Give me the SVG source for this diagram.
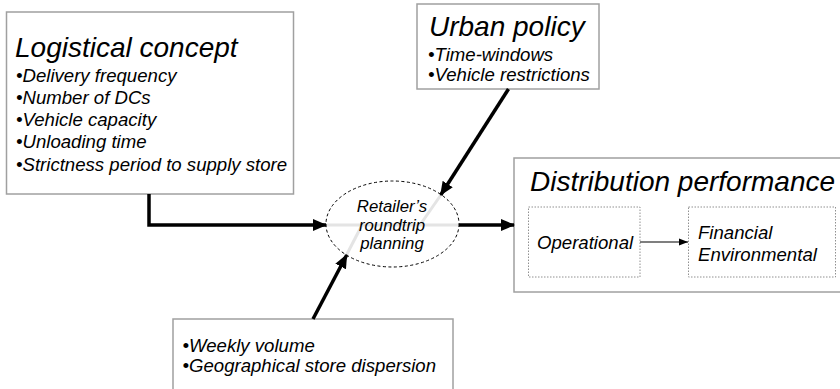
<svg xmlns="http://www.w3.org/2000/svg" width="840" height="389" viewBox="0 0 840 389">
  <style>
    .box { fill: #ffffff; stroke: #a0a0a0; stroke-width: 1.5; }
    .inner { fill: none; stroke: #909090; stroke-width: 1; stroke-dasharray: 1.5 1.5; }
    text { font-family: "Liberation Sans", Arial, sans-serif; font-style: italic; fill: #000; }
    .title { font-size: 28px; }
    .item { font-size: 18.6px; }
    .small { font-size: 16.8px; text-anchor: middle; }
    .conn { fill: none; stroke: #000; stroke-width: 3.5; }
    .ghost { fill: none; stroke: #e4e4e4; stroke-width: 3; }
    .thin { fill: none; stroke: #000; stroke-width: 1.2; }
  </style>
  <defs>
    <marker id="ah" markerUnits="userSpaceOnUse" markerWidth="14" markerHeight="12" refX="13" refY="6" orient="auto">
      <path d="M0,0 L14,6 L0,12 Z" fill="#000"/>
    </marker>
    <marker id="ahs" markerUnits="userSpaceOnUse" markerWidth="9" markerHeight="8" refX="9" refY="4" orient="auto">
      <path d="M0,0.5 L9,4 L0,7.5 Z" fill="#000"/>
    </marker>
  </defs>

  <g id="logistical-concept">
    <rect class="box" x="6.5" y="12" width="287" height="182"/>
    <text class="title" x="15" y="57">Logistical concept</text>
    <text class="item" x="16" y="81.5">•Delivery frequency</text>
    <text class="item" x="16" y="103.5">•Number of DCs</text>
    <text class="item" x="16" y="125.5">•Vehicle capacity</text>
    <text class="item" x="16" y="148">•Unloading time</text>
    <text class="item" x="16" y="170.5">•Strictness period to supply store</text>
  </g>

  <g id="urban-policy">
    <rect class="box" x="417" y="4" width="182" height="85"/>
    <text class="title" x="429" y="36">Urban policy</text>
    <text class="item" x="428" y="61">•Time-windows</text>
    <text class="item" x="428" y="80.5">•Vehicle restrictions</text>
  </g>

  <g id="demand">
    <rect class="box" x="173" y="319" width="280" height="80"/>
    <text class="item" x="182.5" y="352">•Weekly volume</text>
    <text class="item" x="182.5" y="372">•Geographical store dispersion</text>
  </g>

  <g id="distribution-performance">
    <rect class="box" x="514" y="158" width="340" height="134"/>
    <text class="title" x="530" y="191">Distribution performance</text>
    <g id="operational">
      <rect class="inner" x="528.5" y="207" width="111.5" height="70"/>
      <text class="item" x="537" y="249">Operational</text>
    </g>
    <g id="financial-environmental">
      <rect class="inner" x="688.5" y="207" width="147" height="70"/>
      <text class="item" x="698" y="238.5">Financial</text>
      <text class="item" x="698" y="260.5">Environmental</text>
    </g>
  </g>

  <g id="connectors">
    <path class="ghost" d="M326,225 L459,225"/>
    <path class="ghost" d="M440.5,195.5 L420,225"/>
    <path class="ghost" d="M346.5,255 L362,225"/>
    <path class="conn" d="M149,194 L149,225 L326,225" marker-end="url(#ah)"/>
    <path class="conn" d="M508.5,89 L440.7,195" marker-end="url(#ah)"/>
    <path class="conn" d="M313,319 L346.7,255" marker-end="url(#ah)"/>
    <path class="conn" d="M459,225 L514,225" marker-end="url(#ah)"/>
    <path class="thin" d="M640,242 L688,242" marker-end="url(#ahs)"/>
  </g>

  <g id="roundtrip-planning">
    <ellipse cx="392.5" cy="224" rx="66.5" ry="43" fill="none" stroke="#000" stroke-width="1" stroke-dasharray="3 2.5"/>
    <text class="small" x="392" y="212">Retailer’s</text>
    <text class="small" x="392" y="230.5">roundtrip</text>
    <text class="small" x="392" y="249">planning</text>
  </g>
</svg>
